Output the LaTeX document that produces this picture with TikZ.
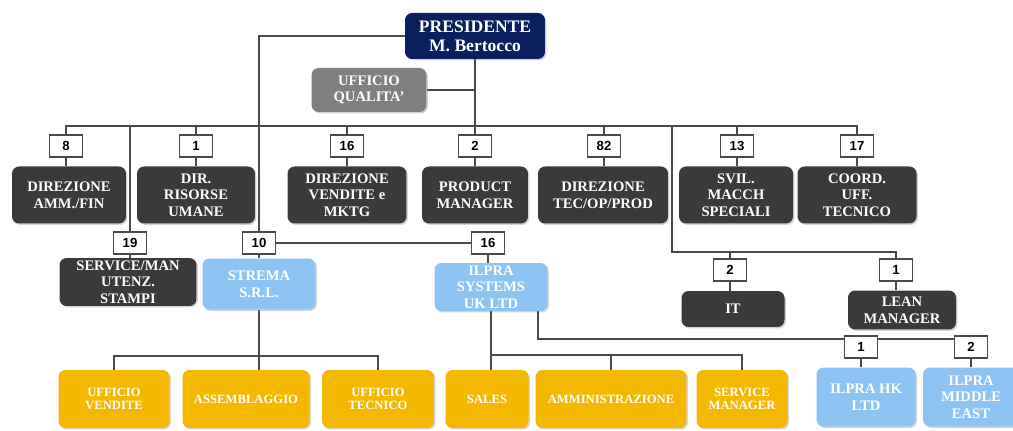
\documentclass[tikz,border=0pt]{standalone}
\usepackage{fontspec}
\setmainfont{Liberation Serif}
\setsansfont{Liberation Sans}
\usetikzlibrary{positioning,shadows,backgrounds}
\definecolor{navy}{HTML}{0B1F5E}
\definecolor{darkbox}{HTML}{3A3A3A}
\definecolor{qualgray}{HTML}{808080}
\definecolor{skyblue}{HTML}{8EC4F4}
\definecolor{gold}{HTML}{F4B800}
\definecolor{wirecol}{HTML}{4A4A4A}
\tikzset{
  unit/.style={rectangle, rounded corners=4pt, align=center, text=white, inner sep=1pt,
    font=\bfseries\fontsize{8.3}{9.5}\selectfont,
    drop shadow={opacity=0.35, shadow xshift=0.8pt, shadow yshift=-0.8pt}},
  dept/.style={unit, fill=darkbox},
  comp/.style={unit, fill=skyblue},
  office/.style={unit, fill=gold, font=\bfseries\fontsize{7.2}{7.4}\selectfont},
  count/.style={rectangle, draw=wirecol, fill=white, line width=0.6pt, minimum width=0.66cm,
    minimum height=0.44cm, inner sep=0pt, font=\sffamily\bfseries\fontsize{7.5}{8}\selectfont},
  link/.style={draw=wirecol, line width=0.6pt}
}

\begin{document}
\begin{tikzpicture}[x=0.02cm,y=-0.02cm]
  \useasboundingbox (0,0) rectangle (1013,431);
  % top
  \node[unit, fill=navy, minimum width=2.8cm, minimum height=0.92cm, font=\bfseries\fontsize{10}{11}\selectfont] (pres) at (475,36) {PRESIDENTE\\M. Bertocco};
  \node[unit, fill=qualgray, minimum width=2.3cm, minimum height=0.88cm] (qual) at (369,90) {UFFICIO\\QUALITA'};
  \coordinate (bus) at (0,126);
  % first level
  \node[count] (c8) at (66,146) {8};
  \node[count] (c1) at (196,146) {1};
  \node[count] (c16) at (347,146) {16};
  \node[count] (c2) at (475,146) {2};
  \node[count] (c82) at (604,146) {82};
  \node[count] (c13) at (737,146) {13};
  \node[count] (c17) at (857,146) {17};
  \node[dept, minimum width=2.28cm, minimum height=1.14cm] (d1) at (69,195) {DIREZIONE\\AMM./FIN};
  \node[dept, minimum width=2.36cm, minimum height=1.14cm] (d2) at (196,195) {DIR.\\RISORSE\\UMANE};
  \node[dept, minimum width=2.38cm, minimum height=1.14cm] (d3) at (347,195) {DIREZIONE\\VENDITE e\\MKTG};
  \node[dept, minimum width=2.12cm, minimum height=1.14cm] (d4) at (475,195) {PRODUCT\\MANAGER};
  \node[dept, minimum width=2.6cm, minimum height=1.14cm] (d5) at (603,195) {DIREZIONE\\TEC/OP/PROD};
  \node[dept, minimum width=2.28cm, minimum height=1.14cm] (d6) at (736,195) {SVIL.\\MACCH\\SPECIALI};
  \node[dept, minimum width=2.38cm, minimum height=1.14cm] (d7) at (857,195) {COORD.\\UFF.\\TECNICO};
  % second level
  \node[count] (c19) at (130,243) {19};
  \node[count] (c10) at (259,243) {10};
  \node[count] (c16b) at (488,243) {16};
  \node[dept, minimum width=2.74cm, minimum height=0.96cm] (serv) at (128,282) {SERVICE/MAN\\UTENZ.\\STAMPI};
  \node[comp, minimum width=2.26cm, minimum height=1.02cm] (strema) at (259,284) {STREMA\\S.R.L.};
  \node[comp, minimum width=2.26cm, minimum height=0.96cm] (uk) at (491,287) {ILPRA\\SYSTEMS\\UK LTD};
  \node[count] (c2b) at (730,270) {2};
  \node[count] (c1b) at (896,270) {1};
  \node[dept, minimum width=2.06cm, minimum height=0.72cm] (it) at (733,309) {IT};
  \node[dept, minimum width=2.16cm, minimum height=0.78cm] (lean) at (902,310) {LEAN\\MANAGER};
  \node[count] (c1c) at (861,347) {1};
  \node[count] (c2c) at (971,347) {2};
  \node[comp, minimum width=1.98cm, minimum height=1.18cm] (hk) at (866,397) {ILPRA HK\\LTD};
  \node[comp, minimum width=1.92cm, minimum height=1.18cm] (me) at (971,397) {ILPRA\\MIDDLE\\EAST};
  % offices
  \node[office, minimum width=2.22cm, minimum height=1.16cm] (y1) at (114,399) {UFFICIO\\VENDITE};
  \node[office, minimum width=2.54cm, minimum height=1.16cm] (y2) at (246,399) {ASSEMBLAGGIO};
  \node[office, minimum width=2.24cm, minimum height=1.16cm] (y3) at (378,399) {UFFICIO\\TECNICO};
  \node[office, minimum width=1.66cm, minimum height=1.16cm] (y4) at (487,399) {SALES};
  \node[office, minimum width=3.02cm, minimum height=1.16cm] (y5) at (611,399) {AMMINISTRAZIONE};
  \node[office, minimum width=1.82cm, minimum height=1.16cm] (y6) at (742,399) {SERVICE\\MANAGER};
  \coordinate (tap) at (672,126);
  \coordinate (itbus) at (672,252);
  \coordinate (sbus) at (0,356);
  \coordinate (ubus) at (0,355);
  \coordinate (ukout) at (538,300);
  \begin{scope}[on background layer]
    \draw[link] (pres.west) -| (c10.north);
    \draw[link] (pres.south) -- (pres.south |- bus);
    \draw[link] (qual.east) -- (qual.east -| pres.south);
    \draw[link] (c8.north) |- (c17.north |- bus) -- (c17.north);
    \foreach \c in {c1,c16,c2,c82,c13,c19}
      \draw[link] (\c.north) -- (\c.north |- bus);
    \foreach \c/\d in {c8/d1,c1/d2,c16/d3,c2/d4,c82/d5,c13/d6,c17/d7,c19/serv,c10/strema,c16b/uk,c2b/it,c1b/lean,c1c/hk,c2c/me}
      \draw[link] (\c.south) -- (\c.south |- \d.north);
    \draw[link] (c10.east) -- (c16b.west);
    \draw[link] (tap) -- (itbus) -| (c1b.north);
    \draw[link] (c2b.north) -- (c2b.north |- itbus);
    \draw[link] (ukout) |- ([yshift=-2pt]c2c.north east);
    % strema offices
    \draw[link] (strema.south) -- (strema.south |- y2.north);
    \draw[link] (y1.north) |- (sbus -| y3.north) -- (y3.north);
    % uk offices
    \draw[link] (uk.south) -- (uk.south |- y4.north);
    \draw[link] (uk.south |- ubus) -| (y6.north);
    \draw[link] (y5.north) -- (y5.north |- ubus);
  \end{scope}
\end{tikzpicture}
\end{document}
